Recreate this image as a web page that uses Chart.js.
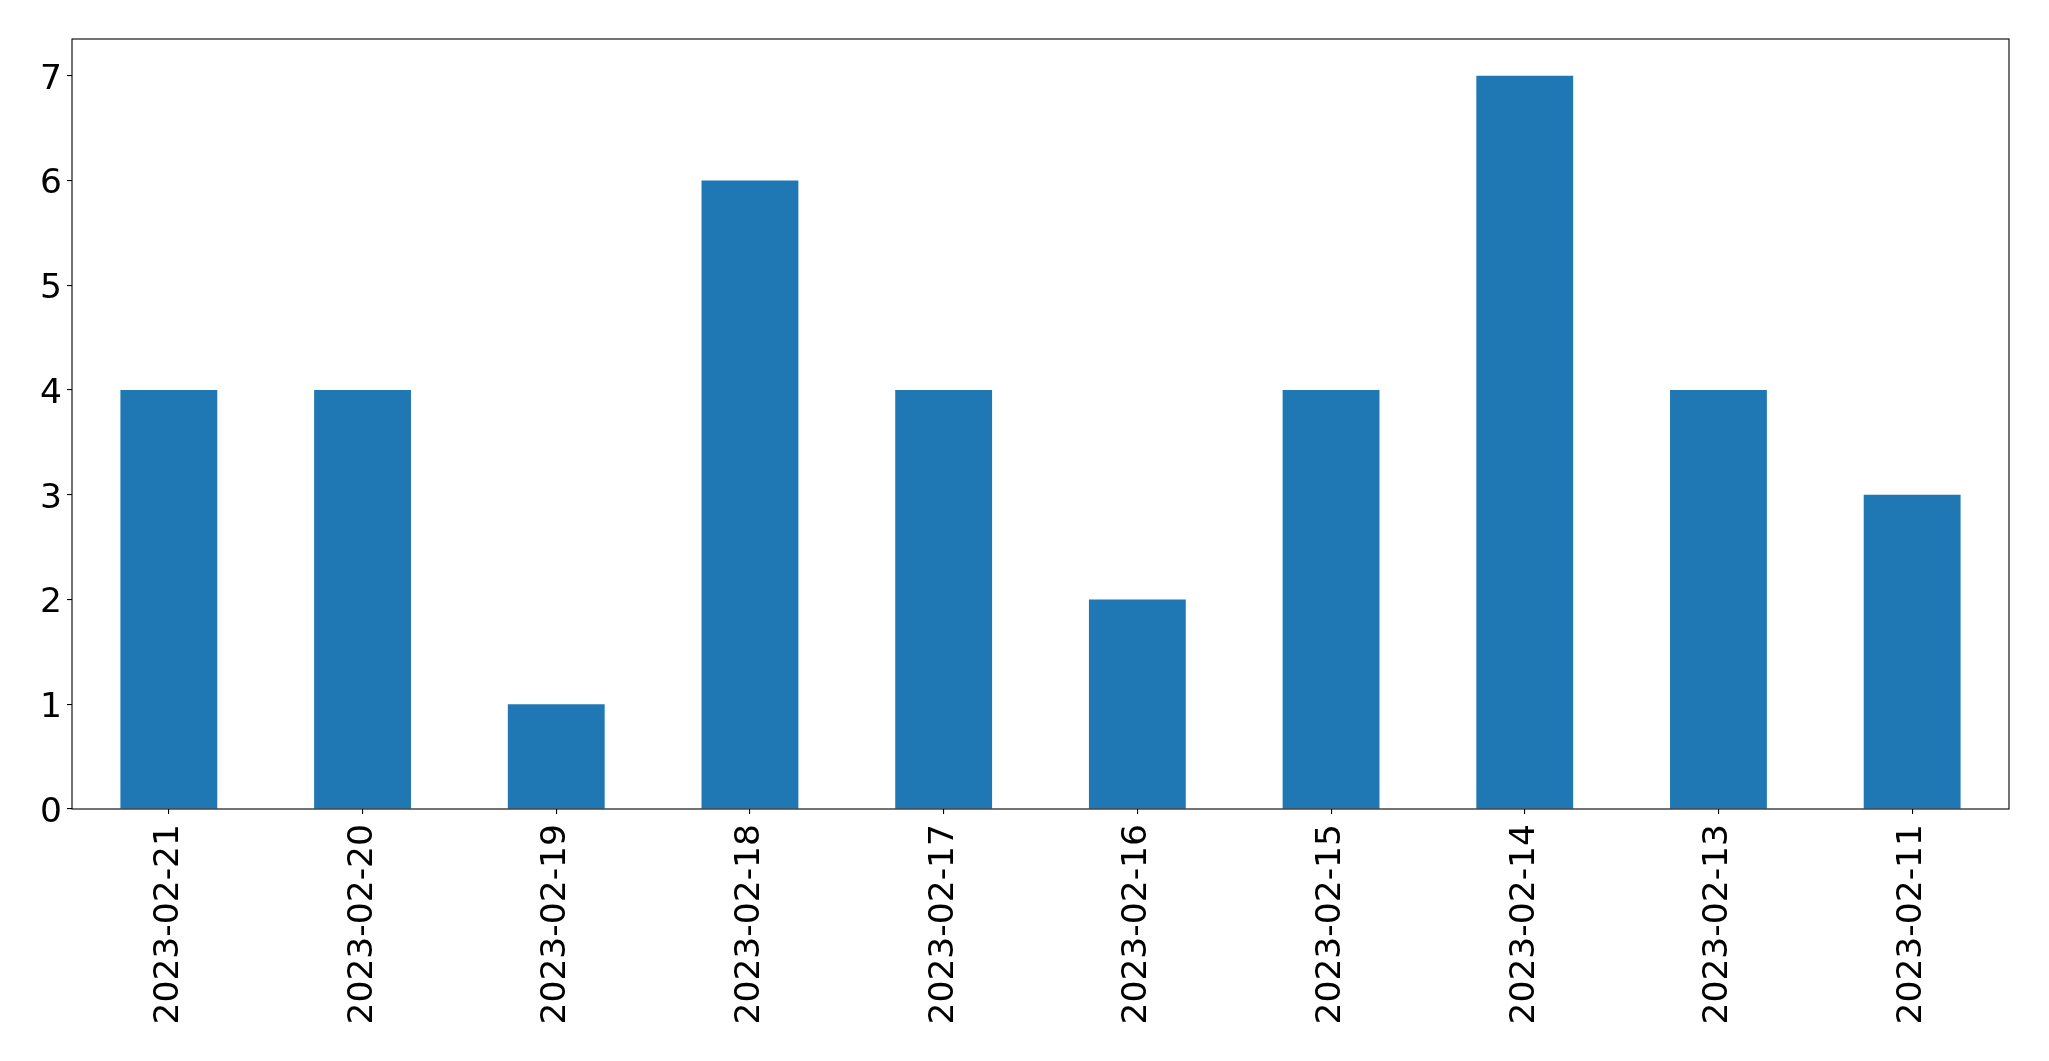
<!DOCTYPE html>
<html>
<head>
<meta charset="utf-8">
<script src="https://cdn.jsdelivr.net/npm/chart.js@4"></script>
<style>
  html, body { margin: 0; padding: 0; background: #fff; }
  #wrap { width: 2049px; height: 1061px; }
</style>
</head>
<body>
<div id="wrap"><canvas id="barChart"></canvas></div>
<script>
// data
const dates = ["2023-02-21", "2023-02-20", "2023-02-19", "2023-02-18", "2023-02-17",
               "2023-02-16", "2023-02-15", "2023-02-14", "2023-02-13", "2023-02-11"];
const counts = [4, 4, 1, 6, 4, 2, 4, 7, 4, 3];
const yTicks = [0, 1, 2, 3, 4, 5, 6, 7];

const fontMain = { family: "'DejaVu Sans'", size: 34.5 };

// draw the full box around the plot, like matplotlib
const frame = {
  id: "frame",
  afterDraw(chart) {
    const { ctx, chartArea: a } = chart;
    ctx.save();
    ctx.strokeStyle = "#000";
    ctx.lineWidth = 1.1;
    ctx.strokeRect(a.left, a.top, a.right - a.left, a.bottom - a.top);
    ctx.restore();
  }
};

const ctx = document.getElementById("barChart").getContext("2d");
new Chart(ctx, {
  type: "bar",
  data: {
    labels: dates,
    datasets: [{
      data: counts,
      backgroundColor: "#1f77b4",
      borderWidth: 0,
      barPercentage: 0.5,
      categoryPercentage: 1.0
    }]
  },
  options: {
    responsive: true,
    maintainAspectRatio: false,
    animation: false,
    layout: { padding: { top: 39, right: 40, left: 0, bottom: 0 } },
    plugins: { legend: { display: false }, tooltip: { enabled: false } },
    scales: {
      x: {
        offset: true,
        grid: { offset: false, drawOnChartArea: false, drawTicks: true, tickLength: 5, color: "#000", lineWidth: 1.1 },
        border: { display: false },
        ticks: { color: "#000", font: fontMain, minRotation: 90, maxRotation: 90, padding: 10, autoSkip: false },
        afterFit(axis) { axis.height = 1061 - 809; }
      },
      y: {
        min: 0,
        max: 7.35,
        grid: { drawOnChartArea: false, drawTicks: true, tickLength: 5, color: "#000", lineWidth: 1.1 },
        border: { display: false },
        ticks: { color: "#000", font: fontMain, stepSize: 1, padding: 5, labelOffset: 4 },
        afterBuildTicks(axis) {
          axis.ticks = yTicks.map(v => ({ value: v }));
        },
        afterFit(axis) { axis.width = 72; }
      }
    }
  },
  plugins: [frame]
});
</script>
</body>
</html>
